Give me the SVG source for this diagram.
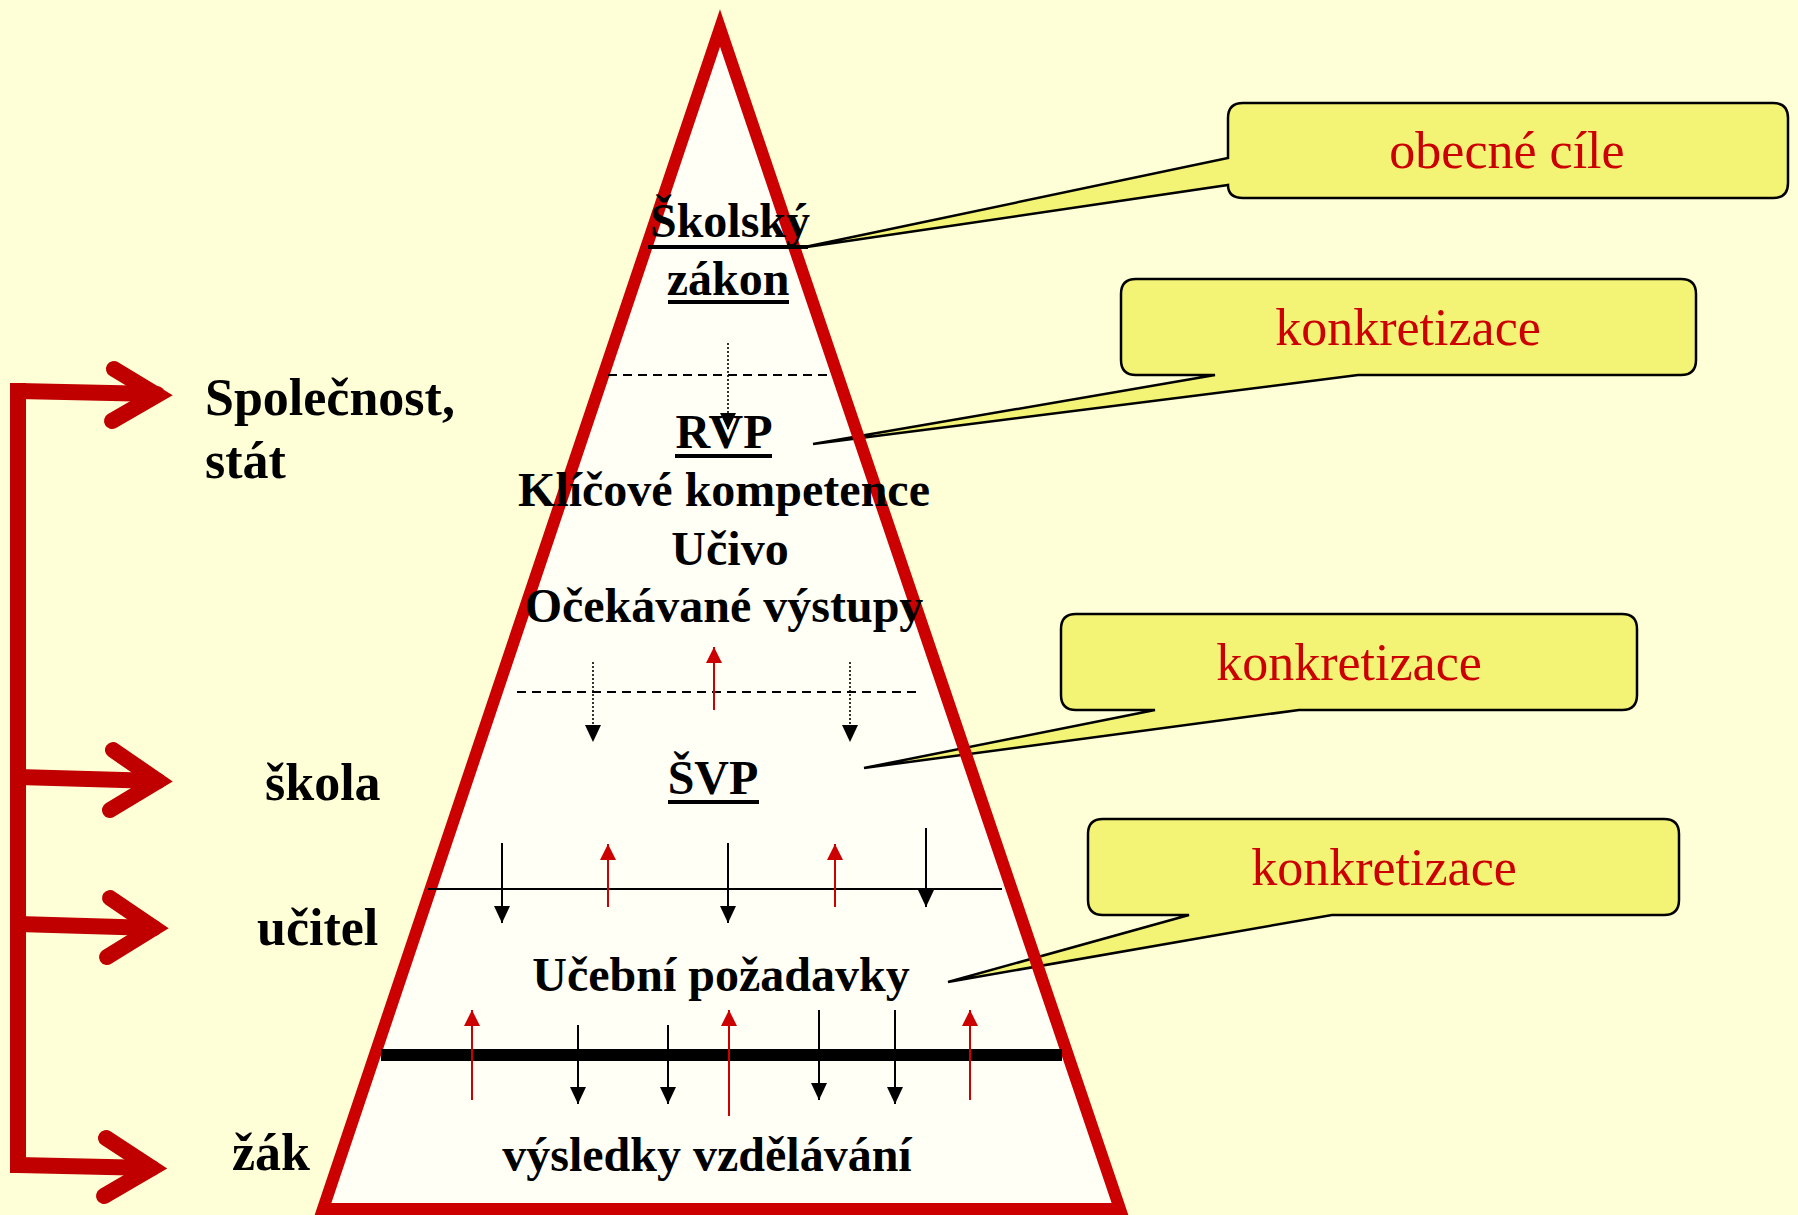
<svg xmlns="http://www.w3.org/2000/svg" width="1798" height="1215" viewBox="0 0 1798 1215">
<defs>
<style>
.bg{fill:#FFFFD7}
.tri-fill{fill:#FFFFF6;stroke:none}
.tri-stroke{fill:none;stroke:#CC0000;stroke-width:12;stroke-linejoin:miter;stroke-miterlimit:10}
.lbl{font-family:"Liberation Serif","Times New Roman",serif;font-weight:bold;font-size:52px;fill:#000}
.in{font-family:"Liberation Serif","Times New Roman",serif;font-weight:bold;font-size:48px;fill:#000;text-anchor:middle}
.ct{font-family:"Liberation Serif","Times New Roman",serif;font-size:52px;fill:#CC0000;text-anchor:middle}
.call{fill:#F3F375;stroke:#000;stroke-width:2.5;stroke-linejoin:miter}
.ul{stroke:#000;stroke-width:4}
.br{fill:none;stroke:#C00000;stroke-width:16;stroke-linecap:round;stroke-linejoin:miter;stroke-miterlimit:10}
.brbar{fill:none;stroke:#C00000;stroke-width:16;stroke-linecap:butt}
.dash{stroke:#000;stroke-width:2;stroke-dasharray:9 6;fill:none}
.dot{stroke:#000;stroke-width:1.6;stroke-dasharray:2 2;fill:none}
.blk{stroke:#000;stroke-width:2;fill:none}
.red{stroke:#CC0000;stroke-width:2;fill:none}
</style>
<marker id="ahb" markerUnits="userSpaceOnUse" markerWidth="18" markerHeight="16" refX="17" refY="8" orient="auto" viewBox="0 0 18 16">
<path d="M0,0 L17,8 L0,16 Z" fill="#000"/>
</marker>
<marker id="ahr" markerUnits="userSpaceOnUse" markerWidth="18" markerHeight="16" refX="16" refY="8" orient="auto" viewBox="0 0 18 16">
<path d="M0,0 L16,8 L0,16 Z" fill="#CC0000"/>
</marker>
</defs>
<rect class="bg" x="0" y="0" width="1798" height="1215"/>

<g id="pyramid-fill">
<polygon class="tri-fill" points="720,28 1120,1209 323,1209"/>
</g>

<g id="callout-obecne-cile">
<path class="call" d="M1243,103 H1773 Q1788,103 1788,118 V183 Q1788,198 1773,198 H1243 Q1228,198 1228,185 L800,248 L1228,158 V118 Q1228,103 1243,103 Z"/>
<text class="ct" x="1507" y="168">obecné cíle</text>
</g>
<g id="callout-konkretizace-1">
<path class="call" d="M1136,279 H1681 Q1696,279 1696,294 V360 Q1696,375 1681,375 H1358 L813,444 L1215,375 H1136 Q1121,375 1121,360 V294 Q1121,279 1136,279 Z"/>
<text class="ct" x="1408" y="345">konkretizace</text>
</g>
<g id="callout-konkretizace-2">
<path class="call" d="M1076,614 H1622 Q1637,614 1637,629 V695 Q1637,710 1622,710 H1299 L864,768 L1155,710 H1076 Q1061,710 1061,695 V629 Q1061,614 1076,614 Z"/>
<text class="ct" x="1349" y="680">konkretizace</text>
</g>
<g id="callout-konkretizace-3">
<path class="call" d="M1103,819 H1664 Q1679,819 1679,834 V900 Q1679,915 1664,915 H1332 L948,982 L1189,915 H1103 Q1088,915 1088,900 V834 Q1088,819 1103,819 Z"/>
<text class="ct" x="1384" y="885">konkretizace</text>
</g>

<g id="pyramid-outline">
<polygon class="tri-stroke" points="720,28 1120,1209 323,1209"/>
</g>

<g id="connectors">
<line class="dash" x1="608" y1="375" x2="828" y2="375"/>
<line class="dot" x1="728" y1="343" x2="728" y2="430" marker-end="url(#ahb)"/>
<line class="dash" x1="517" y1="692" x2="918" y2="692"/>
<line class="dot" x1="593" y1="662" x2="593" y2="742" marker-end="url(#ahb)"/>
<line class="dot" x1="850" y1="662" x2="850" y2="742" marker-end="url(#ahb)"/>
<line class="red" x1="714" y1="710" x2="714" y2="647" marker-end="url(#ahr)"/>
<line class="blk" x1="428" y1="889" x2="1002" y2="889"/>
<line class="blk" x1="502" y1="843" x2="502" y2="923" marker-end="url(#ahb)"/>
<line class="blk" x1="728" y1="843" x2="728" y2="923" marker-end="url(#ahb)"/>
<line class="blk" x1="926" y1="828" x2="926" y2="907" marker-end="url(#ahb)"/>
<line class="red" x1="608" y1="907" x2="608" y2="844" marker-end="url(#ahr)"/>
<line class="red" x1="835" y1="907" x2="835" y2="844" marker-end="url(#ahr)"/>
<line stroke="#000" stroke-width="12" x1="381" y1="1055" x2="1062" y2="1055"/>
<line class="red" x1="472" y1="1100" x2="472" y2="1010" marker-end="url(#ahr)"/>
<line class="red" x1="729" y1="1116" x2="729" y2="1010" marker-end="url(#ahr)"/>
<line class="red" x1="970" y1="1100" x2="970" y2="1010" marker-end="url(#ahr)"/>
<line class="blk" x1="578" y1="1025" x2="578" y2="1104" marker-end="url(#ahb)"/>
<line class="blk" x1="668" y1="1025" x2="668" y2="1104" marker-end="url(#ahb)"/>
<line class="blk" x1="819" y1="1010" x2="819" y2="1100" marker-end="url(#ahb)"/>
<line class="blk" x1="895" y1="1010" x2="895" y2="1104" marker-end="url(#ahb)"/>
</g>

<g id="bracket">
<path class="brbar" d="M18,1173 V383"/>
<path class="br" d="M18,391 L157,394"/>
<polyline class="br" points="114,369 157,395 112,421"/>
<path class="br" d="M18,777 L158,781"/>
<polyline class="br" points="113,750 158,781 110,810"/>
<path class="br" d="M18,924 L154,928"/>
<polyline class="br" points="110,898 154,928 107,957"/>
<path class="br" d="M18,1165 L152,1168"/>
<polyline class="br" points="106,1138 152,1168 104,1196"/>
</g>

<g id="node-spolecnost">
<text class="lbl" x="205" y="415">Společnost,</text>
<text class="lbl" x="205" y="478">stát</text>
</g>
<g id="node-skola"><text class="lbl" x="265" y="800">škola</text></g>
<g id="node-ucitel"><text class="lbl" x="257" y="945">učitel</text></g>
<g id="node-zak"><text class="lbl" x="232" y="1170">žák</text></g>

<g id="node-skolsky-zakon">
<text class="in" x="730" y="237">Školský</text>
<line class="ul" x1="648" y1="247" x2="808" y2="247"/>
<text class="in" x="728" y="295">zákon</text>
<line class="ul" x1="668" y1="302" x2="789" y2="302"/>
</g>
<g id="node-rvp">
<text class="in" x="724" y="448">RVP</text>
<line class="ul" x1="675" y1="456" x2="772" y2="456"/>
<text class="in" x="724" y="506">Klíčové kompetence</text>
<text class="in" x="730" y="565">Učivo</text>
<text class="in" x="724" y="622">Očekávané výstupy</text>
</g>
<g id="node-svp">
<text class="in" x="713" y="794">ŠVP</text>
<line class="ul" x1="668" y1="802" x2="759" y2="802"/>
</g>
<g id="node-ucebni-pozadavky"><text class="in" x="721" y="991">Učební požadavky</text></g>
<g id="node-vysledky"><text class="in" x="707" y="1171">výsledky vzdělávání</text></g>
</svg>
